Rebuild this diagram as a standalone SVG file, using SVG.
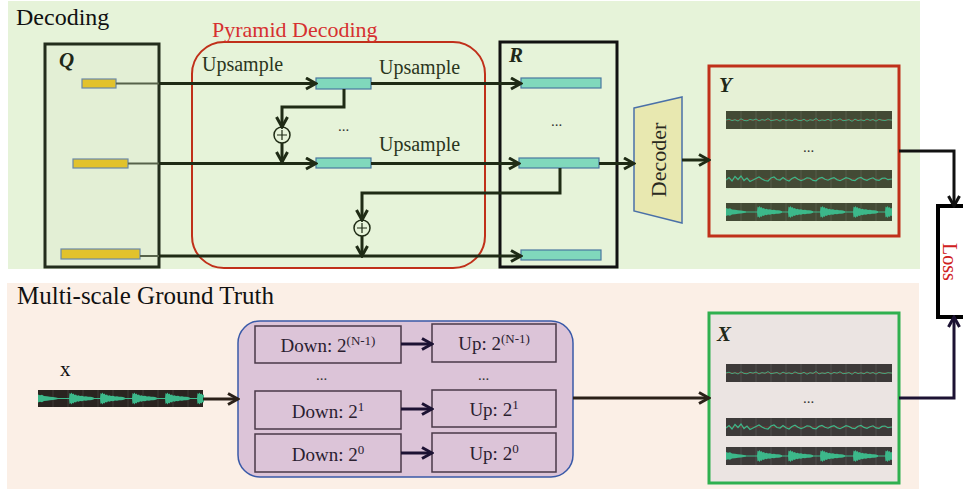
<svg xmlns="http://www.w3.org/2000/svg" xmlns:xlink="http://www.w3.org/1999/xlink" width="963" height="490" viewBox="0 0 963 490">
<style>
.serif{font-family:"Liberation Serif","Times New Roman",serif}
.lbl{font-family:"Liberation Serif",serif;font-weight:bold;font-style:italic;font-size:21px;fill:#1f2818}
.up{font-family:"Liberation Serif",serif;font-size:20px;fill:#2a3520}
.dots{font-family:"Liberation Serif",serif;font-size:15px;fill:#333}
.ln{fill:none;stroke:#1f2b15;stroke-width:3}
.lnB{fill:none;stroke:#111;stroke-width:3}
.lnN{fill:none;stroke:#1c1233;stroke-width:3}
.lnBr{fill:none;stroke:#2a2018;stroke-width:3}
.yel{fill:#e2c22c;stroke:#6a88a8;stroke-width:1.2}
.teal{fill:#80d8bc;stroke:#4a78a0;stroke-width:1.2}
.ibox{fill:#dcc4d8;stroke:#4a3848;stroke-width:1.5}
.btxt{font-family:"Liberation Serif",serif;font-size:19px;fill:#2a2030;text-anchor:middle}
.wave{fill:none;stroke:#3cb88a}
.grid{stroke:#ffffff;stroke-opacity:0.1;stroke-width:1}
</style>
<defs>
<marker id="ah" viewBox="0 0 14 14" markerWidth="14" markerHeight="14" refX="12" refY="7" orient="auto" markerUnits="userSpaceOnUse">
<path d="M2,1.5 L12,7 L2,12.5" fill="none" stroke="#1f2b15" stroke-width="3"/>
</marker>
<marker id="ahB" viewBox="0 0 14 14" markerWidth="14" markerHeight="14" refX="12" refY="7" orient="auto" markerUnits="userSpaceOnUse">
<path d="M2,1.5 L12,7 L2,12.5" fill="none" stroke="#111" stroke-width="3"/>
</marker>
<marker id="ahN" viewBox="0 0 14 14" markerWidth="14" markerHeight="14" refX="12" refY="7" orient="auto" markerUnits="userSpaceOnUse">
<path d="M2,1.5 L12,7 L2,12.5" fill="none" stroke="#1c1233" stroke-width="3"/>
</marker>
<marker id="ahBr" viewBox="0 0 14 14" markerWidth="14" markerHeight="14" refX="12" refY="7" orient="auto" markerUnits="userSpaceOnUse">
<path d="M2,1.5 L12,7 L2,12.5" fill="none" stroke="#2a2018" stroke-width="3"/>
</marker>
<path id="gridlines" class="grid" d="M15,0v18M30,0v18M45,0v18M60,0v18M75,0v18M90,0v18M105,0v18M120,0v18M135,0v18M150,0v18"/>
<symbol id="w1" viewBox="0 0 166 18" width="166" height="18">
<use xlink:href="#gridlines"/>
<path d="M0,9H166" stroke="#a03a30" stroke-width="0.8"/>
<polyline class="wave" stroke-width="0.9" points="0,9 3,8.2 6,9.6 9,8.7 12,10 15,7.8 18,9.4 21,9.8 24,8.4 27,9.2 30,8 33,9.9 36,8.6 39,9.3 42,7.6 45,9.7 48,9.1 51,8.5 54,10.1 57,8.1 60,9.5 63,8.8 66,9.8 69,7.9 72,9.3 75,9.6 78,8.3 81,10.2 84,8.7 87,9.4 90,7.5 93,9.9 96,8.9 99,9.5 102,8.2 105,10 108,8.4 111,9.2 114,7.8 117,9.7 120,9.3 123,8.6 126,10.3 129,8.1 132,9.6 135,8.8 138,9.8 141,8 144,9.4 147,8.5 150,10.1 153,8.3 156,9.2 159,9.5 162,8.7 166,9.1"/>
</symbol>
<symbol id="w2" viewBox="0 0 166 18" width="166" height="18">
<use xlink:href="#gridlines"/>
<path d="M0,9H166" stroke="#a03a30" stroke-width="0.6"/>
<polyline class="wave" stroke-width="1.2" points="0,10 3,7.5 6,11 9,6.5 12,9.5 15,6 18,10.5 21,8 24,11.5 27,10 30,8.5 33,7 36,9 39,10.5 42,11 45,8 48,7 51,9.5 54,10 57,7.5 60,9.8 63,11 66,8.5 69,7.2 72,9.3 75,10.6 78,9.5 81,7.8 84,8.2 87,10.4 90,10.8 93,8.4 96,7.4 99,9.2 102,10.2 105,8.6 108,7.6 111,9.6 114,10.7 117,9.2 120,7.7 123,8.5 126,10.1 129,10.5 132,8.2 135,7.5 138,9.4 141,10.3 144,8.8 147,7.8 150,9.9 153,10.4 156,8.4 159,8 162,9.7 166,9"/>
</symbol>
<path id="burst" d="M0,9 L0.5,3.5 L1.5,4.5 L2.5,3 L3.5,4.8 L4.5,4 L5.5,5.5 L7,5 L8,6.2 L9.5,5.8 L11,6.6 L13,6.3 L15,7 L17,6.8 L19,7.3 L21,7.2 L23,7.6 L25,8.2 L25,9.8 L23,10.4 L21,10.8 L19,10.7 L17,11.2 L15,11 L13,11.7 L11,11.4 L9.5,12.2 L8,11.8 L7,13 L5.5,12.5 L4.5,14 L3.5,13.2 L2.5,15 L1.5,13.5 L0.5,14.5 Z" fill="#3cb88a"/>
<symbol id="w3" viewBox="0 0 166 18" width="166" height="18">
<use xlink:href="#gridlines"/>
<path d="M0,9H166" stroke="#3cb88a" stroke-width="1.2"/>
<path d="M0,5 L2,5.8 L4,5.3 L6,6.4 L9,6.8 L12,7.3 L15,7.6 L18,8 L20,8.4 L20,9.6 L18,10 L15,10.4 L12,10.7 L9,11.2 L6,11.6 L4,12.7 L2,12.2 L0,13 Z" fill="#3cb88a"/>
<use xlink:href="#burst" x="31"/>
<use xlink:href="#burst" x="62"/>
<use xlink:href="#burst" x="94"/>
<use xlink:href="#burst" x="127"/>
<use xlink:href="#burst" x="159"/>
</symbol>
</defs>

<g id="panels">
<rect x="8" y="1" width="912" height="268" fill="#e6f3d9"/>
<rect x="7" y="283" width="912" height="206" fill="#fbefe6"/>
<text class="serif" x="16" y="25" font-size="24" fill="#111">Decoding</text>
<text class="serif" x="17" y="304" font-size="25" fill="#111">Multi-scale Ground Truth</text>
</g>

<g id="pyramid">
<rect x="192" y="42" width="293" height="226" rx="32" fill="none" stroke="#c0301a" stroke-width="2"/>
<text class="serif" x="212" y="37" font-size="22" fill="#d63030">Pyramid Decoding</text>
<text class="up" x="202" y="71">Upsample</text>
<text class="up" x="379" y="74">Upsample</text>
<text class="up" x="379" y="151">Upsample</text>
<text class="dots" x="338" y="131">...</text>
</g>

<g id="Q">
<rect x="45" y="44" width="114" height="223" fill="#e3efd5" stroke="#232d1c" stroke-width="3"/>
<text class="lbl" x="59" y="67">Q</text>
<rect class="yel" x="82" y="79" width="34" height="9"/>
<rect class="yel" x="73" y="159" width="55" height="9"/>
<rect class="yel" x="61" y="249" width="79" height="10"/>
</g>

<g id="teal-mid">
<rect class="teal" x="316" y="78" width="55" height="11"/>
<rect class="teal" x="316" y="158" width="55" height="10"/>
</g>

<g id="sum1">
<circle cx="282" cy="135" r="8" fill="#e6f3d9" stroke="#1f2b15" stroke-width="1.5"/>
<path d="M277,135H287M282,130V140" stroke="#1f2b15" stroke-width="1.2"/>
</g>
<g id="sum2">
<circle cx="362" cy="228" r="8" fill="#e6f3d9" stroke="#1f2b15" stroke-width="1.5"/>
<path d="M357,228H367M362,223V233" stroke="#1f2b15" stroke-width="1.2"/>
</g>

<g id="R">
<rect x="500" y="42" width="117" height="225" fill="none" stroke="#111" stroke-width="3"/>
<text class="lbl" x="509" y="62">R</text>
<rect class="teal" x="521" y="78" width="80" height="10"/>
<rect class="teal" x="519" y="158" width="80" height="10"/>
<rect class="teal" x="521" y="250" width="80" height="10"/>
<text class="dots" x="551" y="126">...</text>
</g>

<g id="decoder">
<polygon points="634,108 682,97 682,223 634,211" fill="#e8e8b0" stroke="#4a70a8" stroke-width="1.5"/>
<text class="serif" transform="translate(666,160) rotate(-90)" text-anchor="middle" font-size="22" fill="#2a2a20">Decoder</text>
</g>

<g id="Y">
<rect x="709" y="66" width="190" height="170" fill="#e6f1d6" stroke="#c0301a" stroke-width="3"/>
<text class="lbl" x="719" y="92">Y</text>
<rect x="726" y="111" width="166" height="18" fill="#434a35"/>
<use xlink:href="#w1" x="726" y="111"/>
<text class="dots" x="803" y="152" font-size="12">...</text>
<rect x="726" y="170" width="166" height="18" fill="#434a35"/>
<use xlink:href="#w2" x="726" y="170"/>
<rect x="726" y="203" width="166" height="18" fill="#434a35"/>
<use xlink:href="#w3" x="726" y="203"/>
</g>

<g id="loss">
<rect x="938" y="206" width="40" height="111" fill="#fff" stroke="#000" stroke-width="4"/>
<text class="serif" transform="translate(943,262) rotate(90)" text-anchor="middle" font-size="20" fill="#d02020">Loss</text>
</g>

<g id="x-input">
<text class="serif" x="60" y="376" font-size="21" fill="#111">x</text>
<rect x="38" y="390" width="165" height="17" fill="#2a2420"/>
<use xlink:href="#w3" x="38" y="389.5"/>
</g>

<g id="multiscale">
<rect x="238" y="321" width="335" height="156" rx="22" fill="#dcc4d8" stroke="#3a5aa8" stroke-width="1.5"/>
<rect class="ibox" x="255" y="326" width="146" height="37"/>
<rect class="ibox" x="255" y="391" width="146" height="38"/>
<rect class="ibox" x="255" y="434" width="146" height="38"/>
<rect class="ibox" x="432" y="324" width="124" height="38"/>
<rect class="ibox" x="432" y="390" width="124" height="37"/>
<rect class="ibox" x="432" y="433" width="124" height="39"/>
<text class="btxt" x="328" y="352">Down: 2<tspan font-size="13" dy="-7">(N-1)</tspan></text>
<text class="btxt" x="328" y="418">Down: 2<tspan font-size="13" dy="-7">1</tspan></text>
<text class="btxt" x="328" y="461">Down: 2<tspan font-size="13" dy="-7">0</tspan></text>
<text class="btxt" x="494" y="350">Up: 2<tspan font-size="13" dy="-7">(N-1)</tspan></text>
<text class="btxt" x="494" y="416">Up: 2<tspan font-size="13" dy="-7">1</tspan></text>
<text class="btxt" x="494" y="460">Up: 2<tspan font-size="13" dy="-7">0</tspan></text>
<text class="dots" x="316" y="380">...</text>
<text class="dots" x="478" y="380">...</text>
</g>

<g id="X">
<rect x="709" y="313" width="190" height="170" fill="#ebe4e2" stroke="#2fb04f" stroke-width="3"/>
<text class="lbl" x="717" y="341">X</text>
<rect x="726" y="364" width="166" height="18" fill="#3d3a39"/>
<use xlink:href="#w1" x="726" y="364"/>
<text class="dots" x="803" y="403" font-size="12">...</text>
<rect x="726" y="418" width="166" height="18" fill="#3d3a39"/>
<use xlink:href="#w2" x="726" y="418"/>
<rect x="726" y="447" width="166" height="18" fill="#3d3a39"/>
<use xlink:href="#w3" x="726" y="447"/>
</g>

<g id="connectors">
<path d="M116,83.5H159" fill="none" stroke="#56624a" stroke-width="2"/>
<path class="ln" d="M159,83.5H316" marker-end="url(#ah)"/>
<path class="ln" d="M371,83.5H521" marker-end="url(#ah)"/>
<path d="M128,163.5H159" fill="none" stroke="#56624a" stroke-width="2"/>
<path class="ln" d="M159,163.5H316" marker-end="url(#ah)"/>
<path class="ln" d="M371,163.5H519" marker-end="url(#ah)"/>
<path class="ln" d="M344,89V107H282V127" marker-end="url(#ah)"/>
<path class="ln" d="M282,143V162" marker-end="url(#ah)"/>
<path class="ln" d="M560,168V193H362V220" marker-end="url(#ah)"/>
<path class="ln" d="M362,236V256" marker-end="url(#ah)"/>
<path d="M140,256H159" fill="none" stroke="#56624a" stroke-width="2"/>
<path class="ln" d="M159,256H521" marker-end="url(#ah)"/>
<path class="ln" d="M599,163.5H634" marker-end="url(#ah)"/>
<path class="ln" d="M682,160H709" marker-end="url(#ah)"/>
<path class="lnB" d="M899,151H954V206" marker-end="url(#ahB)"/>
<path class="lnBr" d="M203,399H238" marker-end="url(#ahBr)"/>
<path class="lnBr" d="M573,398H709" marker-end="url(#ahBr)"/>
<path class="lnN" d="M899,398H954V317" marker-end="url(#ahN)"/>
<path class="lnN" d="M401,344H432" marker-end="url(#ahN)"/>
<path class="lnN" d="M401,409H432" marker-end="url(#ahN)"/>
<path class="lnN" d="M401,453H432" marker-end="url(#ahN)"/>
</g>
</svg>
